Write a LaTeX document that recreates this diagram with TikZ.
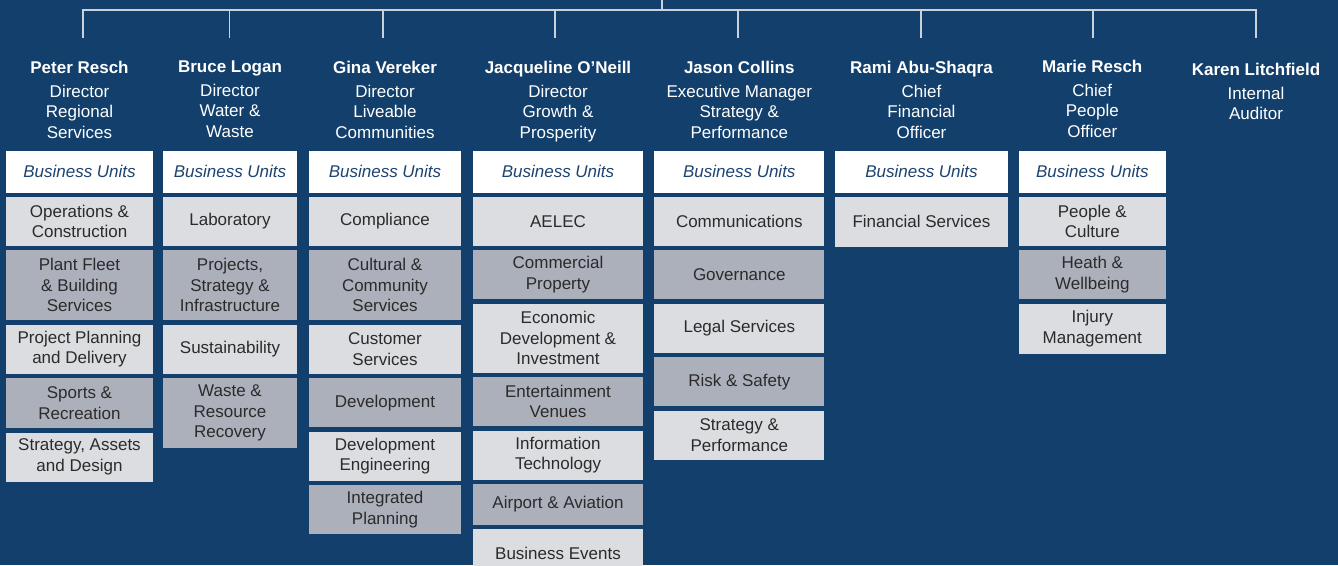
\documentclass[tikz,border=0pt]{standalone}
\usepackage{fontspec}
\setmainfont{Liberation Sans}
\usetikzlibrary{positioning}
\definecolor{navy}{HTML}{123F6B}
\definecolor{unitlight}{HTML}{DCDDE1}
\definecolor{unitdark}{HTML}{ACB0BB}
\definecolor{butext}{HTML}{1E4471}
\definecolor{unittext}{HTML}{2B2B2B}
\definecolor{linegrey}{HTML}{C8D1DC}

\begin{document}
\begin{tikzpicture}[x=1pt, y=-1pt, node distance=4pt,
    every node/.style={font=\fontsize{17}{20.5}\selectfont},
    head/.style={text=white, align=center, anchor=north, inner sep=0pt},
    bu/.style={fill=white, text=butext, font=\fontsize{17}{20.5}\selectfont\itshape,
               minimum height=42pt, inner sep=0pt},
    unit/.style={text=unittext, align=center, inner xsep=2pt, inner ysep=0pt,
                 minimum height=#1},
    link/.style={draw=linegrey, line width=1.6pt}]
\clip (0,0) rectangle (1338,565);
\fill[navy] (0,0) rectangle (1338,565);

% reporting lines
\coordinate (root) at (662,0);
\foreach \n/\x in {1/83, 2/229.5, 3/383, 4/555, 5/737.7, 6/920.7, 7/1092.7, 8/1255.7} {
  \coordinate (t\n) at (\x,10);
  \coordinate (d\n) at (\x,38);
}
\draw[link] (d1) -- (t1) -- (t8) -- (d8);
\foreach \n in {2,...,7} \draw[link] (t\n) -- (d\n);
\draw[link] (root) -- (root |- t1);

% heads
\node[head] (h1) at (79.5,61) {\textbf{Peter Resch}\\[3pt]Director\\Regional\\Services};
\node[head] (h2) at (230,61) {\textbf{Bruce Logan}\\[3pt]Director\\Water \&\\Waste};
\node[head] (h3) at (385,61) {\textbf{Gina Vereker}\\[3pt]Director\\Liveable\\Communities};
\node[head] (h4) at (558,61) {\textbf{Jacqueline O'Neill}\\[3pt]Director\\Growth \&\\Prosperity};
\node[head] (h5) at (739.3,61) {\textbf{Jason Collins}\\[3pt]Executive Manager\\Strategy \&\\Performance};
\node[head] (h6) at (921.5,61) {\textbf{Rami Abu-Shaqra}\\[3pt]Chief\\Financial\\Officer};
\node[head] (h7) at (1092.3,60) {\textbf{Marie Resch}\\[3pt]Chief\\People\\Officer};
\node[head] (h8) at (1256,63) {\textbf{Karen Litchfield}\\[3pt]Internal\\Auditor};

% business unit headers
\foreach \col/\cx/\w in {1/79.5/147, 2/230/134, 3/385/152, 4/558/170,
                         5/739.3/170, 6/921.5/173.6, 7/1092.3/146.7} {
  \node[bu, minimum width=\w pt] (c\col-0) at (\cx,171.5) {Business Units};
}

% units
\foreach \hgt/\unitname [count=\i] in {49/{Operations \&\\Construction},
    70/{Plant Fleet\\\& Building\\Services}, 49/{Project Planning\\and Delivery},
    50/{Sports \&\\Recreation}, 49/{Strategy, Assets\\and Design}} {
  \pgfmathtruncatemacro\prev{\i-1}
  \pgfmathparse{Mod(\i,2) ? "unitlight" : "unitdark"}
  \colorlet{unitbg}{\pgfmathresult}
  \node[unit=\hgt pt, fill=unitbg, minimum width=147pt, below=of c1-\prev] (c1-\i) {\unitname};
}
\foreach \hgt/\unitname [count=\i] in {49/{Laboratory},
    70/{Projects,\\Strategy \&\\Infrastructure}, 49/{Sustainability},
    70/{Waste \&\\Resource\\Recovery}} {
  \pgfmathtruncatemacro\prev{\i-1}
  \pgfmathparse{Mod(\i,2) ? "unitlight" : "unitdark"}
  \colorlet{unitbg}{\pgfmathresult}
  \node[unit=\hgt pt, fill=unitbg, minimum width=134pt, below=of c2-\prev] (c2-\i) {\unitname};
}
\foreach \hgt/\unitname [count=\i] in {49/{Compliance},
    70/{Cultural \&\\Community\\Services}, 49/{Customer\\Services},
    49/{Development}, 49/{Development\\Engineering}, 49/{Integrated\\Planning}} {
  \pgfmathtruncatemacro\prev{\i-1}
  \pgfmathparse{Mod(\i,2) ? "unitlight" : "unitdark"}
  \colorlet{unitbg}{\pgfmathresult}
  \node[unit=\hgt pt, fill=unitbg, minimum width=152pt, below=of c3-\prev] (c3-\i) {\unitname};
}
\foreach \hgt/\unitname [count=\i] in {49/{AELEC}, 49/{Commercial\\Property},
    69/{Economic\\Development \&\\Investment}, 49/{Entertainment\\Venues},
    49/{Information\\Technology}, 41/{Airport \& Aviation}, 49/{Business Events}} {
  \pgfmathtruncatemacro\prev{\i-1}
  \pgfmathparse{Mod(\i,2) ? "unitlight" : "unitdark"}
  \colorlet{unitbg}{\pgfmathresult}
  \node[unit=\hgt pt, fill=unitbg, minimum width=170pt, below=of c4-\prev] (c4-\i) {\unitname};
}
\foreach \hgt/\unitname [count=\i] in {49/{Communications}, 49/{Governance},
    49/{Legal Services}, 49/{Risk \& Safety}, 49/{Strategy \&\\Performance}} {
  \pgfmathtruncatemacro\prev{\i-1}
  \pgfmathparse{Mod(\i,2) ? "unitlight" : "unitdark"}
  \colorlet{unitbg}{\pgfmathresult}
  \node[unit=\hgt pt, fill=unitbg, minimum width=170pt, below=of c5-\prev] (c5-\i) {\unitname};
}
\node[unit=50pt, fill=unitlight, minimum width=173.6pt, below=of c6-0] (c6-1) {Financial Services};
\foreach \hgt/\unitname [count=\i] in {49/{People \&\\Culture},
    49/{Heath \&\\Wellbeing}, 50/{Injury\\Management}} {
  \pgfmathtruncatemacro\prev{\i-1}
  \pgfmathparse{Mod(\i,2) ? "unitlight" : "unitdark"}
  \colorlet{unitbg}{\pgfmathresult}
  \node[unit=\hgt pt, fill=unitbg, minimum width=146.7pt, below=of c7-\prev] (c7-\i) {\unitname};
}
\end{tikzpicture}
\end{document}
